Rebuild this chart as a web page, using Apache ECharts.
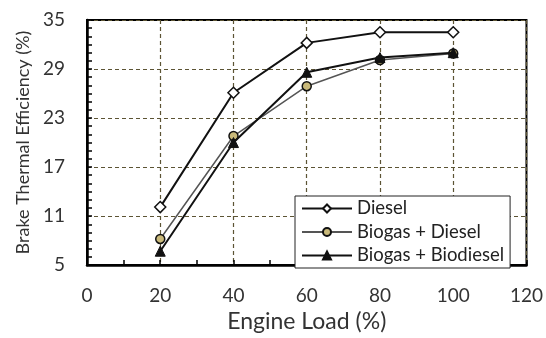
<!DOCTYPE html>
<html>
<head>
<meta charset="utf-8">
<script src="https://cdn.jsdelivr.net/npm/echarts@6/dist/echarts.min.js"></script>
<style>html,body{margin:0;padding:0;background:#fff}#c{width:546px;height:338px}</style>
</head>
<body>
<div id="c"></div>
<script>
const loads = [20, 40, 60, 80, 100];
const diesel = [12.1, 26.1, 32.2, 33.5, 33.5];
const biogasDiesel = [8.2, 20.8, 26.9, 30.1, 30.9];
const biogasBiodiesel = [6.7, 20.0, 28.6, 30.4, 31.0];
const seriesNames = ['Diesel', 'Biogas + Diesel', 'Biogas + Biodiesel'];

const FONT = 'Lato, "Open Sans", sans-serif';
const pair = (vals) => loads.map((x, i) => [x, vals[i]]);
const gridLine = { show: true, lineStyle: { color: '#5c5434', type: [4, 3], width: 1.2 } };

const chart = echarts.init(document.getElementById('c'), null, { renderer: 'canvas' });
chart.setOption({
  animation: false,
  backgroundColor: '#fff',
  textStyle: { fontFamily: FONT },
  grid: { left: 87, top: 20, right: 19, bottom: 65, show: true, borderColor: '#000', borderWidth: 2, backgroundColor: 'transparent' },
  xAxis: {
    type: 'value', min: 0, max: 120, interval: 20,
    name: 'Engine Load (%)', nameLocation: 'middle', nameGap: 43,
    nameTextStyle: { fontSize: 23, color: '#333', fontFamily: FONT },
    axisLine: { show: true, lineStyle: { color: '#000', width: 2.5 } },
    axisTick: { show: true, inside: true, length: 5, lineStyle: { color: '#000', width: 1.5 } },
    minorTick: { show: true, splitNumber: 2, length: 5, lineStyle: { color: '#000', width: 1.5 } },
    axisLabel: { fontSize: 19, color: '#333', margin: 21, fontFamily: FONT },
    splitLine: gridLine
  },
  yAxis: {
    type: 'value', min: 5, max: 35, interval: 6,
    name: 'Brake Thermal Efficiency (%)', nameLocation: 'middle', nameGap: 53, nameRotate: 90,
    nameTextStyle: { fontSize: 18, color: '#333', fontFamily: FONT },
    axisLine: { show: true, lineStyle: { color: '#000', width: 2.5 } },
    axisTick: { show: true, inside: true, length: 5, lineStyle: { color: '#000', width: 1.5 } },
    minorTick: { show: true, splitNumber: 6, length: 5, lineStyle: { color: '#000', width: 1.5 } },
    axisLabel: { fontSize: 19, color: '#333', margin: 22, fontFamily: FONT },
    splitLine: gridLine
  },
  legend: {
    orient: 'vertical', left: 295, top: 196,
    padding: [3, 6, 3, 6],
    borderColor: '#222', borderWidth: 1, backgroundColor: '#fff',
    itemWidth: 50, itemHeight: 10, itemGap: 4.5,
    textStyle: { fontSize: 18.5, color: '#222', fontFamily: FONT, lineHeight: 18 },
    data: seriesNames
  },
  series: [
    {
      name: seriesNames[0], type: 'line', data: pair(diesel),
      symbol: 'diamond', symbolSize: 11, z: 3,
      lineStyle: { color: '#111', width: 2 },
      itemStyle: { color: '#fff', borderColor: '#111', borderWidth: 1.5 }
    },
    {
      name: seriesNames[1], type: 'line', data: pair(biogasDiesel),
      symbol: 'circle', symbolSize: 9, z: 2,
      lineStyle: { color: '#555', width: 1.5 },
      itemStyle: { color: '#c9b97a', borderColor: '#111', borderWidth: 1.5 }
    },
    {
      name: seriesNames[2], type: 'line', data: pair(biogasBiodiesel),
      symbol: 'triangle', symbolSize: 10, z: 4,
      lineStyle: { color: '#111', width: 2 },
      itemStyle: { color: '#111', borderColor: '#111', borderWidth: 1 }
    }
  ]
});
</script>
</body>
</html>
